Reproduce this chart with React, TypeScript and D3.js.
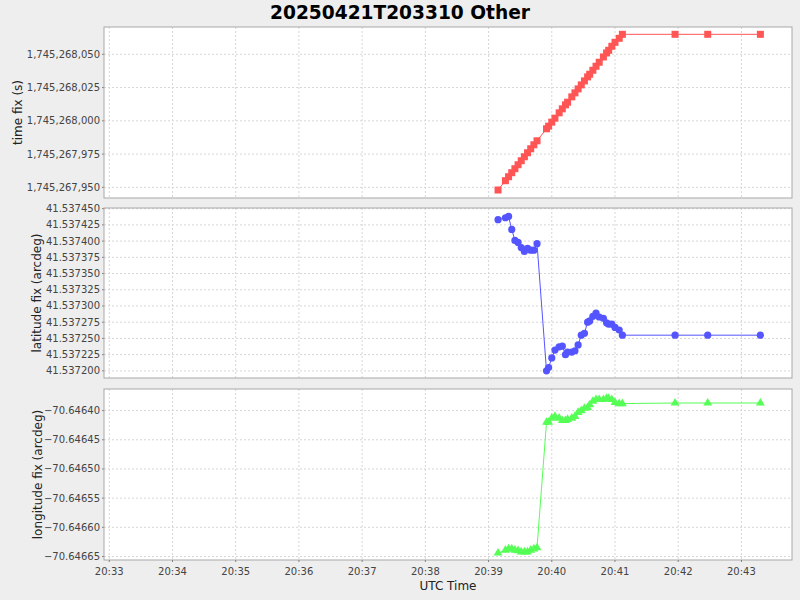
import React from "react";
import * as d3 from "d3";

// sample times (UTC) shared by all three series
const times = [
  "20:39:09", "20:39:16", "20:39:19", "20:39:22", "20:39:25", "20:39:28", "20:39:31", "20:39:34",
  "20:39:37", "20:39:40", "20:39:43", "20:39:46", "20:39:55", "20:39:57", "20:40:00", "20:40:03",
  "20:40:07", "20:40:10", "20:40:13", "20:40:15", "20:40:19", "20:40:22", "20:40:25", "20:40:28",
  "20:40:31", "20:40:34", "20:40:36", "20:40:39", "20:40:42", "20:40:45", "20:40:49", "20:40:52",
  "20:40:54", "20:40:57", "20:41:00", "20:41:04", "20:41:07", "20:41:57", "20:42:28", "20:43:18",
];

const timeFix = [
  1745267948, 1745267955, 1745267958, 1745267961, 1745267964, 1745267967, 1745267970, 1745267973,
  1745267976, 1745267979, 1745267982, 1745267985, 1745267994, 1745267996, 1745267999, 1745268002,
  1745268006, 1745268009, 1745268012, 1745268014, 1745268018, 1745268021, 1745268024, 1745268027,
  1745268030, 1745268033, 1745268035, 1745268038, 1745268041, 1745268044, 1745268048, 1745268051,
  1745268053, 1745268056, 1745268059, 1745268062, 1745268065, 1745268065, 1745268065, 1745268065,
];

const latFix = [
  41.537433, 41.537436, 41.537438, 41.537418, 41.537401, 41.537398, 41.53739, 41.537384,
  41.537389, 41.537386, 41.537386, 41.537396, 41.5372, 41.537205, 41.53722, 41.537232,
  41.537237, 41.537238, 41.537225, 41.537229, 41.537229, 41.537231, 41.53724, 41.537255,
  41.537258, 41.537275, 41.537277, 41.537284, 41.537289, 41.537283, 41.537281, 41.537274,
  41.537272, 41.537272, 41.537267, 41.537263, 41.537255, 41.537255, 41.537255, 41.537255,
];

const lonFix = [
  -70.646644, -70.646639, -70.646637, -70.646637, -70.646639, -70.64664, -70.646642, -70.646642,
  -70.646642, -70.646639, -70.646637, -70.646635, -70.64642, -70.64642, -70.646413, -70.64641,
  -70.646413, -70.646417, -70.646417, -70.646415, -70.646413, -70.64641, -70.646403, -70.6464,
  -70.646396, -70.646395, -70.64639, -70.646384, -70.646381, -70.646381, -70.646381, -70.646379,
  -70.646379, -70.646381, -70.646386, -70.646388, -70.646388, -70.646387, -70.646387, -70.646387,
];

const timeTicks = [1745267950, 1745267975, 1745268000, 1745268025, 1745268050];
const latTicks = [
  41.5372, 41.537225, 41.53725, 41.537275, 41.5373, 41.537325,
  41.53735, 41.537375, 41.5374, 41.537425, 41.53745,
];
const lonTicks = [-70.64665, -70.6466, -70.64655, -70.6465, -70.64645, -70.6464];
const minuteTicks = [
  "20:33", "20:34", "20:35", "20:36", "20:37", "20:38",
  "20:39", "20:40", "20:41", "20:42", "20:43",
];

const W = 800;
const H = 600;
const left = 104;
const right = 792;
const font = "DejaVu Sans, sans-serif";

const parseT = d3.utcParse("%H:%M:%S");
const parseM = d3.utcParse("%H:%M");

const x = d3
  .scaleUtc()
  .domain([parseT("20:32:55")!, parseT("20:43:48")!])
  .range([left, right]);

type Marker = "square" | "circle" | "triangle";

interface Panel {
  label: string;
  labelX: number;
  top: number;
  bottom: number;
  domain: [number, number];
  ticks: number[];
  fmt: (v: number) => string;
  values: number[];
  color: string;
  marker: Marker;
}

const panels: Panel[] = [
  {
    label: "time fix (s)",
    labelX: 18,
    top: 27,
    bottom: 198,
    domain: [1745267942, 1745268070.5],
    ticks: timeTicks,
    fmt: d3.format(","),
    values: timeFix,
    color: "#ff5555",
    marker: "square",
  },
  {
    label: "latitude fix (arcdeg)",
    labelX: 37,
    top: 208,
    bottom: 378,
    domain: [41.537189, 41.537451],
    ticks: latTicks,
    fmt: d3.format(".6f"),
    values: latFix,
    color: "#5555ff",
    marker: "circle",
  },
  {
    label: "longitude fix (arcdeg)",
    labelX: 38,
    top: 389,
    bottom: 560,
    domain: [-70.646656, -70.646363],
    ticks: lonTicks,
    fmt: d3.format(".5f"),
    values: lonFix,
    color: "#55ff55",
    marker: "triangle",
  },
];

const tri = d3.symbol(d3.symbolTriangle, 34)();

function PanelView({ p }: { p: Panel }) {
  const y = d3.scaleLinear().domain(p.domain).range([p.bottom, p.top]);
  const pts = times.map((t, i) => [x(parseT(t)!), y(p.values[i])] as [number, number]);
  const line = d3.line()(pts) || "";
  const mid = (p.top + p.bottom) / 2;
  return (
    <g>
      <rect x={left} y={p.top} width={right - left} height={p.bottom - p.top} fill="#ffffff" />
      {minuteTicks.map(m => (
        <line
          key={"v" + m}
          x1={x(parseM(m)!)}
          x2={x(parseM(m)!)}
          y1={p.top}
          y2={p.bottom}
          stroke="#d6d6d6"
          strokeDasharray="2,2"
        />
      ))}
      {p.ticks.map(t => (
        <g key={"h" + t}>
          <line x1={left} x2={right} y1={y(t)} y2={y(t)} stroke="#d6d6d6" strokeDasharray="2,2" />
          <line x1={left - 2} x2={left} y1={y(t)} y2={y(t)} stroke="#808080" />
          <text
            x={left - 4}
            y={y(t)}
            dy="0.35em"
            textAnchor="end"
            fontSize={10}
            fontFamily={font}
            fill="#444"
          >
            {p.fmt(t)}
          </text>
        </g>
      ))}
      <path d={line} fill="none" stroke={p.color} strokeWidth={1} />
      {pts.map(([px, py], i) => {
        if (p.marker === "square")
          return <rect key={i} x={px - 3.5} y={py - 3.5} width={7} height={7} fill={p.color} />;
        if (p.marker === "circle") return <circle key={i} cx={px} cy={py} r={3.6} fill={p.color} />;
        return <path key={i} d={tri} transform={`translate(${px},${py})`} fill={p.color} />;
      })}
      <rect
        x={left}
        y={p.top}
        width={right - left}
        height={p.bottom - p.top}
        fill="none"
        stroke="#a8a8a8"
      />
      <text
        transform={`translate(${p.labelX},${mid}) rotate(-90)`}
        textAnchor="middle"
        dy="0.35em"
        fontSize={12}
        fontFamily={font}
        fill="#222"
      >
        {p.label}
      </text>
    </g>
  );
}

export default function App() {
  const axisY = panels[2].bottom;
  return (
    <svg
      width={W}
      height={H}
      style={{ position: "absolute", left: 0, top: 0, display: "block" }}
    >
      <rect x={0} y={0} width={W} height={H} fill="#eeeeee" />
      <text
        x={W / 2}
        y={19}
        textAnchor="middle"
        fontSize={18.6}
        fontWeight="bold"
        fontFamily={font}
        fill="#000"
      >
        20250421T203310 Other
      </text>
      {panels.map(p => (
        <PanelView key={p.label} p={p} />
      ))}
      {minuteTicks.map(m => (
        <g key={"x" + m}>
          <line x1={x(parseM(m)!)} x2={x(parseM(m)!)} y1={axisY} y2={axisY + 2} stroke="#808080" />
          <text
            x={x(parseM(m)!)}
            y={axisY + 15}
            textAnchor="middle"
            fontSize={10}
            fontFamily={font}
            fill="#444"
          >
            {m}
          </text>
        </g>
      ))}
      <text
        x={(left + right) / 2}
        y={axisY + 30}
        textAnchor="middle"
        fontSize={12}
        fontFamily={font}
        fill="#222"
      >
        UTC Time
      </text>
    </svg>
  );
}
